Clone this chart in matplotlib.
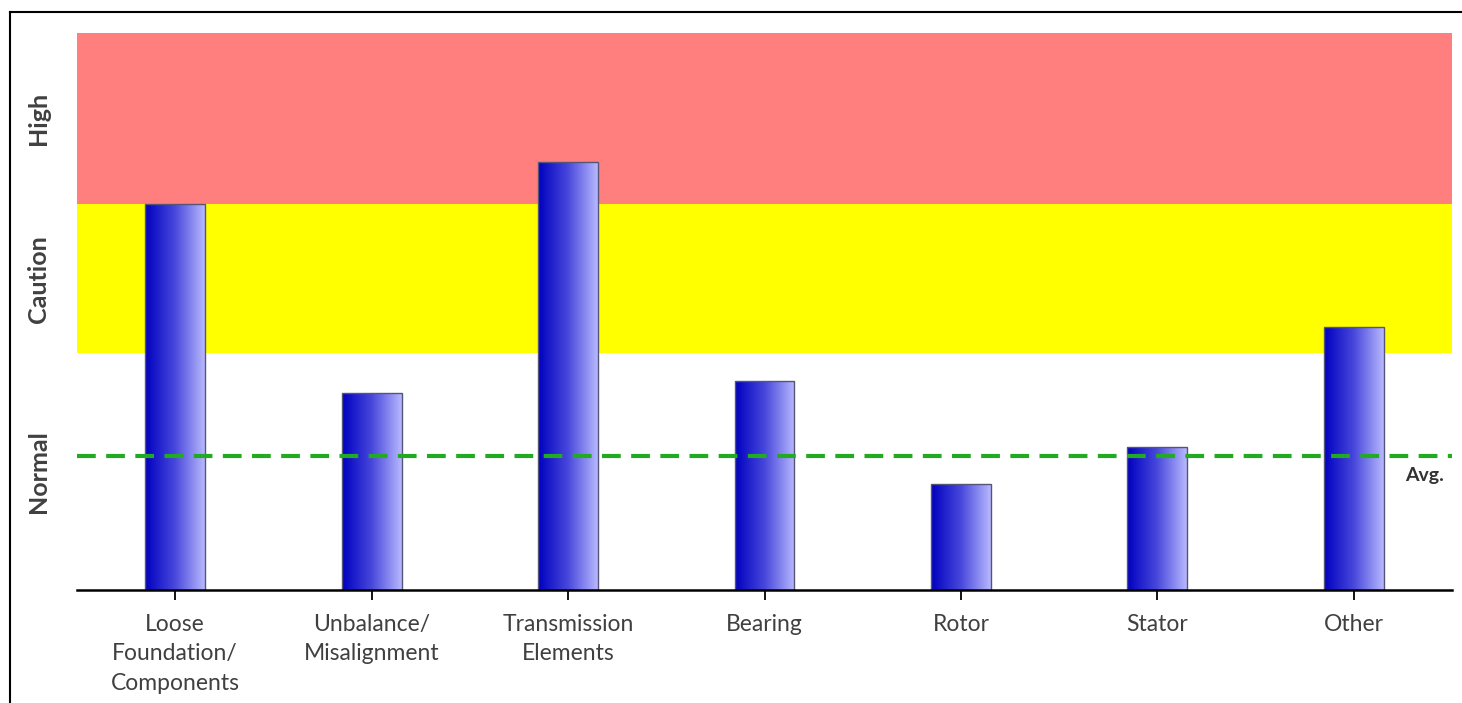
import numpy as np
import matplotlib
matplotlib.use("Agg")
import matplotlib.pyplot as plt
from matplotlib.lines import Line2D
from matplotlib.colors import LinearSegmentedColormap

categories = ["Loose\nFoundation/\nComponents", "Unbalance/\nMisalignment",
              "Transmission\nElements", "Bearing", "Rotor", "Stator", "Other"]
values = [69.3, 35.4, 76.8, 37.5, 19.0, 25.7, 47.2]
avg_value = 24.1
band_edges = [0, 42.5, 69.3, 100]
band_names = ["Normal", "Caution", "High"]
band_colors = ["white", "#FFFF00", "#FF7F7F"]

plt.rcParams['font.family'] = ['Lato', 'DejaVu Sans']

fig = plt.figure(figsize=(14.62, 7.03), dpi=100)
ax = fig.add_axes([77/1462, 1-590/703, (1452-77)/1462, (590-33)/703])

x = np.arange(len(categories))

for lo, hi, c in zip(band_edges[:-1], band_edges[1:], band_colors):
    ax.axhspan(lo, hi, color=c, zorder=0, lw=0)

width = 0.305
bars = ax.bar(x, values, width=width, facecolor="none", edgecolor="#555577", lw=1, zorder=3)
grad = np.linspace(0, 1, 256).reshape(1, -1)
cmap = LinearSegmentedColormap.from_list("g", ["#0000C0", "#4848DC", "#B8B8FF"])
for b in bars:
    x0, y0 = b.get_x(), b.get_y()
    w, h = b.get_width(), b.get_height()
    im = ax.imshow(grad, cmap=cmap, aspect="auto", extent=[x0, x0 + w, y0, y0 + h],
                   zorder=2, interpolation="bilinear")
    im.set_clip_path(b)
ax.set_xlim(-0.5, len(categories) - 0.5)
ax.set_ylim(band_edges[0], band_edges[-1])

ax.axhline(avg_value, color="#22AA22", lw=3, ls=(0, (4.5, 2.5)), zorder=4)
ax.text(6.46, avg_value - 2.0, "Avg.", ha="right", va="top", fontsize=14,
        fontweight="bold", color="#333333")

ax.set_xticks(x)
ax.set_xticklabels(categories, fontsize=16.5, color="#404040", linespacing=1.52)
ax.tick_params(axis="x", length=7, width=1.3, color="black", pad=10)
ax.set_yticks([])
for s in ["top", "right", "left"]:
    ax.spines[s].set_visible(False)
ax.spines["bottom"].set_linewidth(1.8)
ax.spines["bottom"].set_zorder(5)

for lo, hi, name in zip(band_edges[:-1], band_edges[1:], band_names):
    ax.text(-0.5 - 38/196, (lo + hi) / 2, name, rotation=90, ha="center", va="center",
            fontsize=18, fontweight="bold", color="#404040",
            transform=ax.transData, clip_on=False)

fig.add_artist(Line2D([10/1462, 10/1462], [0, 1-12/703], color="black", lw=1.5,
                      transform=fig.transFigure))
fig.add_artist(Line2D([10/1462, 1], [1-12/703, 1-12/703], color="black", lw=1.5,
                      transform=fig.transFigure))

fig.savefig("out.png", dpi=100)
